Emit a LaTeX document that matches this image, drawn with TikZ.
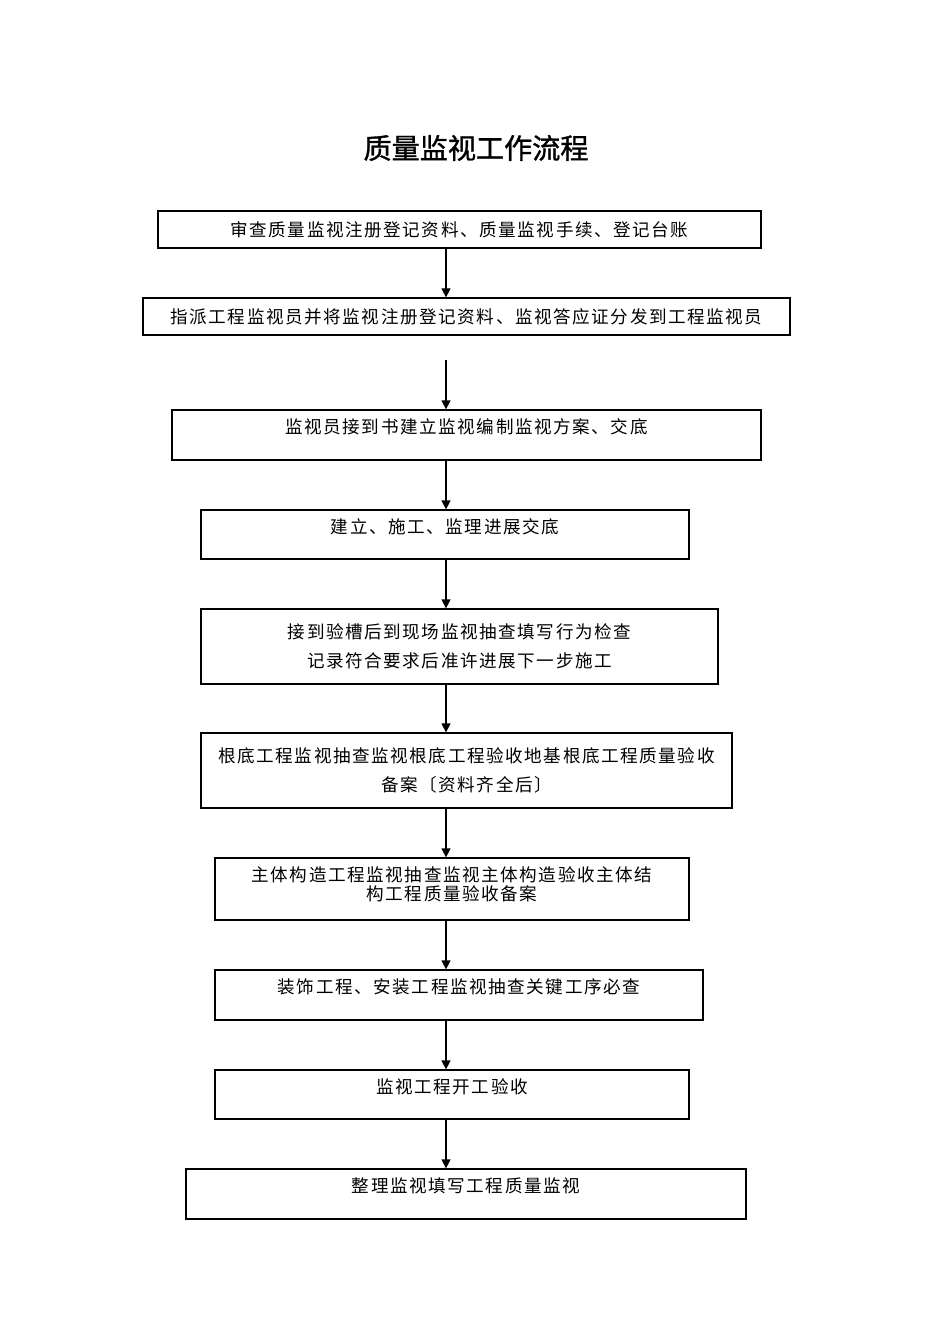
\documentclass[tikz,border=0pt]{standalone}
\usepackage{fontspec}
\newfontfamily\cjk[LetterSpace=9]{Noto Sans CJK SC}
\newfontfamily\cjktitle[FakeBold=1.2]{Noto Sans CJK SC}
\usetikzlibrary{arrows.meta}

\begin{document}
\begin{tikzpicture}[x=0.02cm,y=-0.02cm,
  flowbox/.style={draw, line width=0.7pt, inner sep=0pt, align=center,
    font=\cjk\fontsize{10}{12}\selectfont},
  flowarrow/.style={-{Triangle[length=1.8mm,width=1.8mm]}, line width=0.7pt}]
  \newcommand\drawstep[7]{\node[flowbox, minimum width={(#4-#2)*0.02cm}, minimum height={(#5-#3)*0.02cm}, #6] (#1) at ({(#2+#4)/2},{(#3+#5)/2}) {#7};}
  \useasboundingbox (0,0) rectangle (950,1344);

% title
  \node (title) at (476,148) {\cjktitle\fontsize{16}{19}\selectfont 质量监视工作流程};

% steps
  \drawstep{b1}{158}{211}{761}{248}{}{审查质量监视注册登记资料、质量监视手续、登记台账}
  \drawstep{b2}{143}{298}{790}{335}{}{指派工程监视员并将监视注册登记资料、监视答应证分发到工程监视员}
  \drawstep{b3}{172}{410}{761}{460}{text depth=10pt}{监视员接到书建立监视编制监视方案、交底}
  \drawstep{b4}{201}{510}{689}{559}{text depth=10pt}{建立、施工、监理进展交底}
  \drawstep{b5}{201}{609}{718}{684}{}{接到验槽后到现场监视抽查填写行为检查\\[4.4pt]记录符合要求后准许进展下一步施工}
  \drawstep{b6}{201}{733}{732}{808}{}{根底工程监视抽查监视根底工程验收地基根底工程质量验收\\[4.4pt]备案〔资料齐全后〕}
  \drawstep{b7}{215}{858}{689}{920}{text depth=6.3pt}{主体构造工程监视抽查监视主体构造验收主体结\\[-1.2pt]构工程质量验收备案}
  \drawstep{b8}{215}{970}{703}{1020}{text depth=10pt}{装饰工程、安装工程监视抽查关键工序必查}
  \drawstep{b9}{215}{1070}{689}{1119}{text depth=10pt}{监视工程开工验收}
  \drawstep{b10}{186}{1169}{746}{1219}{text depth=10pt}{整理监视填写工程质量监视}

% connectors
  \coordinate (spine) at (446,0);
  \coordinate (gap) at (446,360);
  \draw[flowarrow] (gap) -- (b3.north -| spine);
  \foreach \a/\b in {b1/b2,b3/b4,b4/b5,b5/b6,b6/b7,b7/b8,b8/b9,b9/b10}{
    \draw[flowarrow] (\a.south -| spine) -- (\b.north -| spine);
  }
\end{tikzpicture}
\end{document}
